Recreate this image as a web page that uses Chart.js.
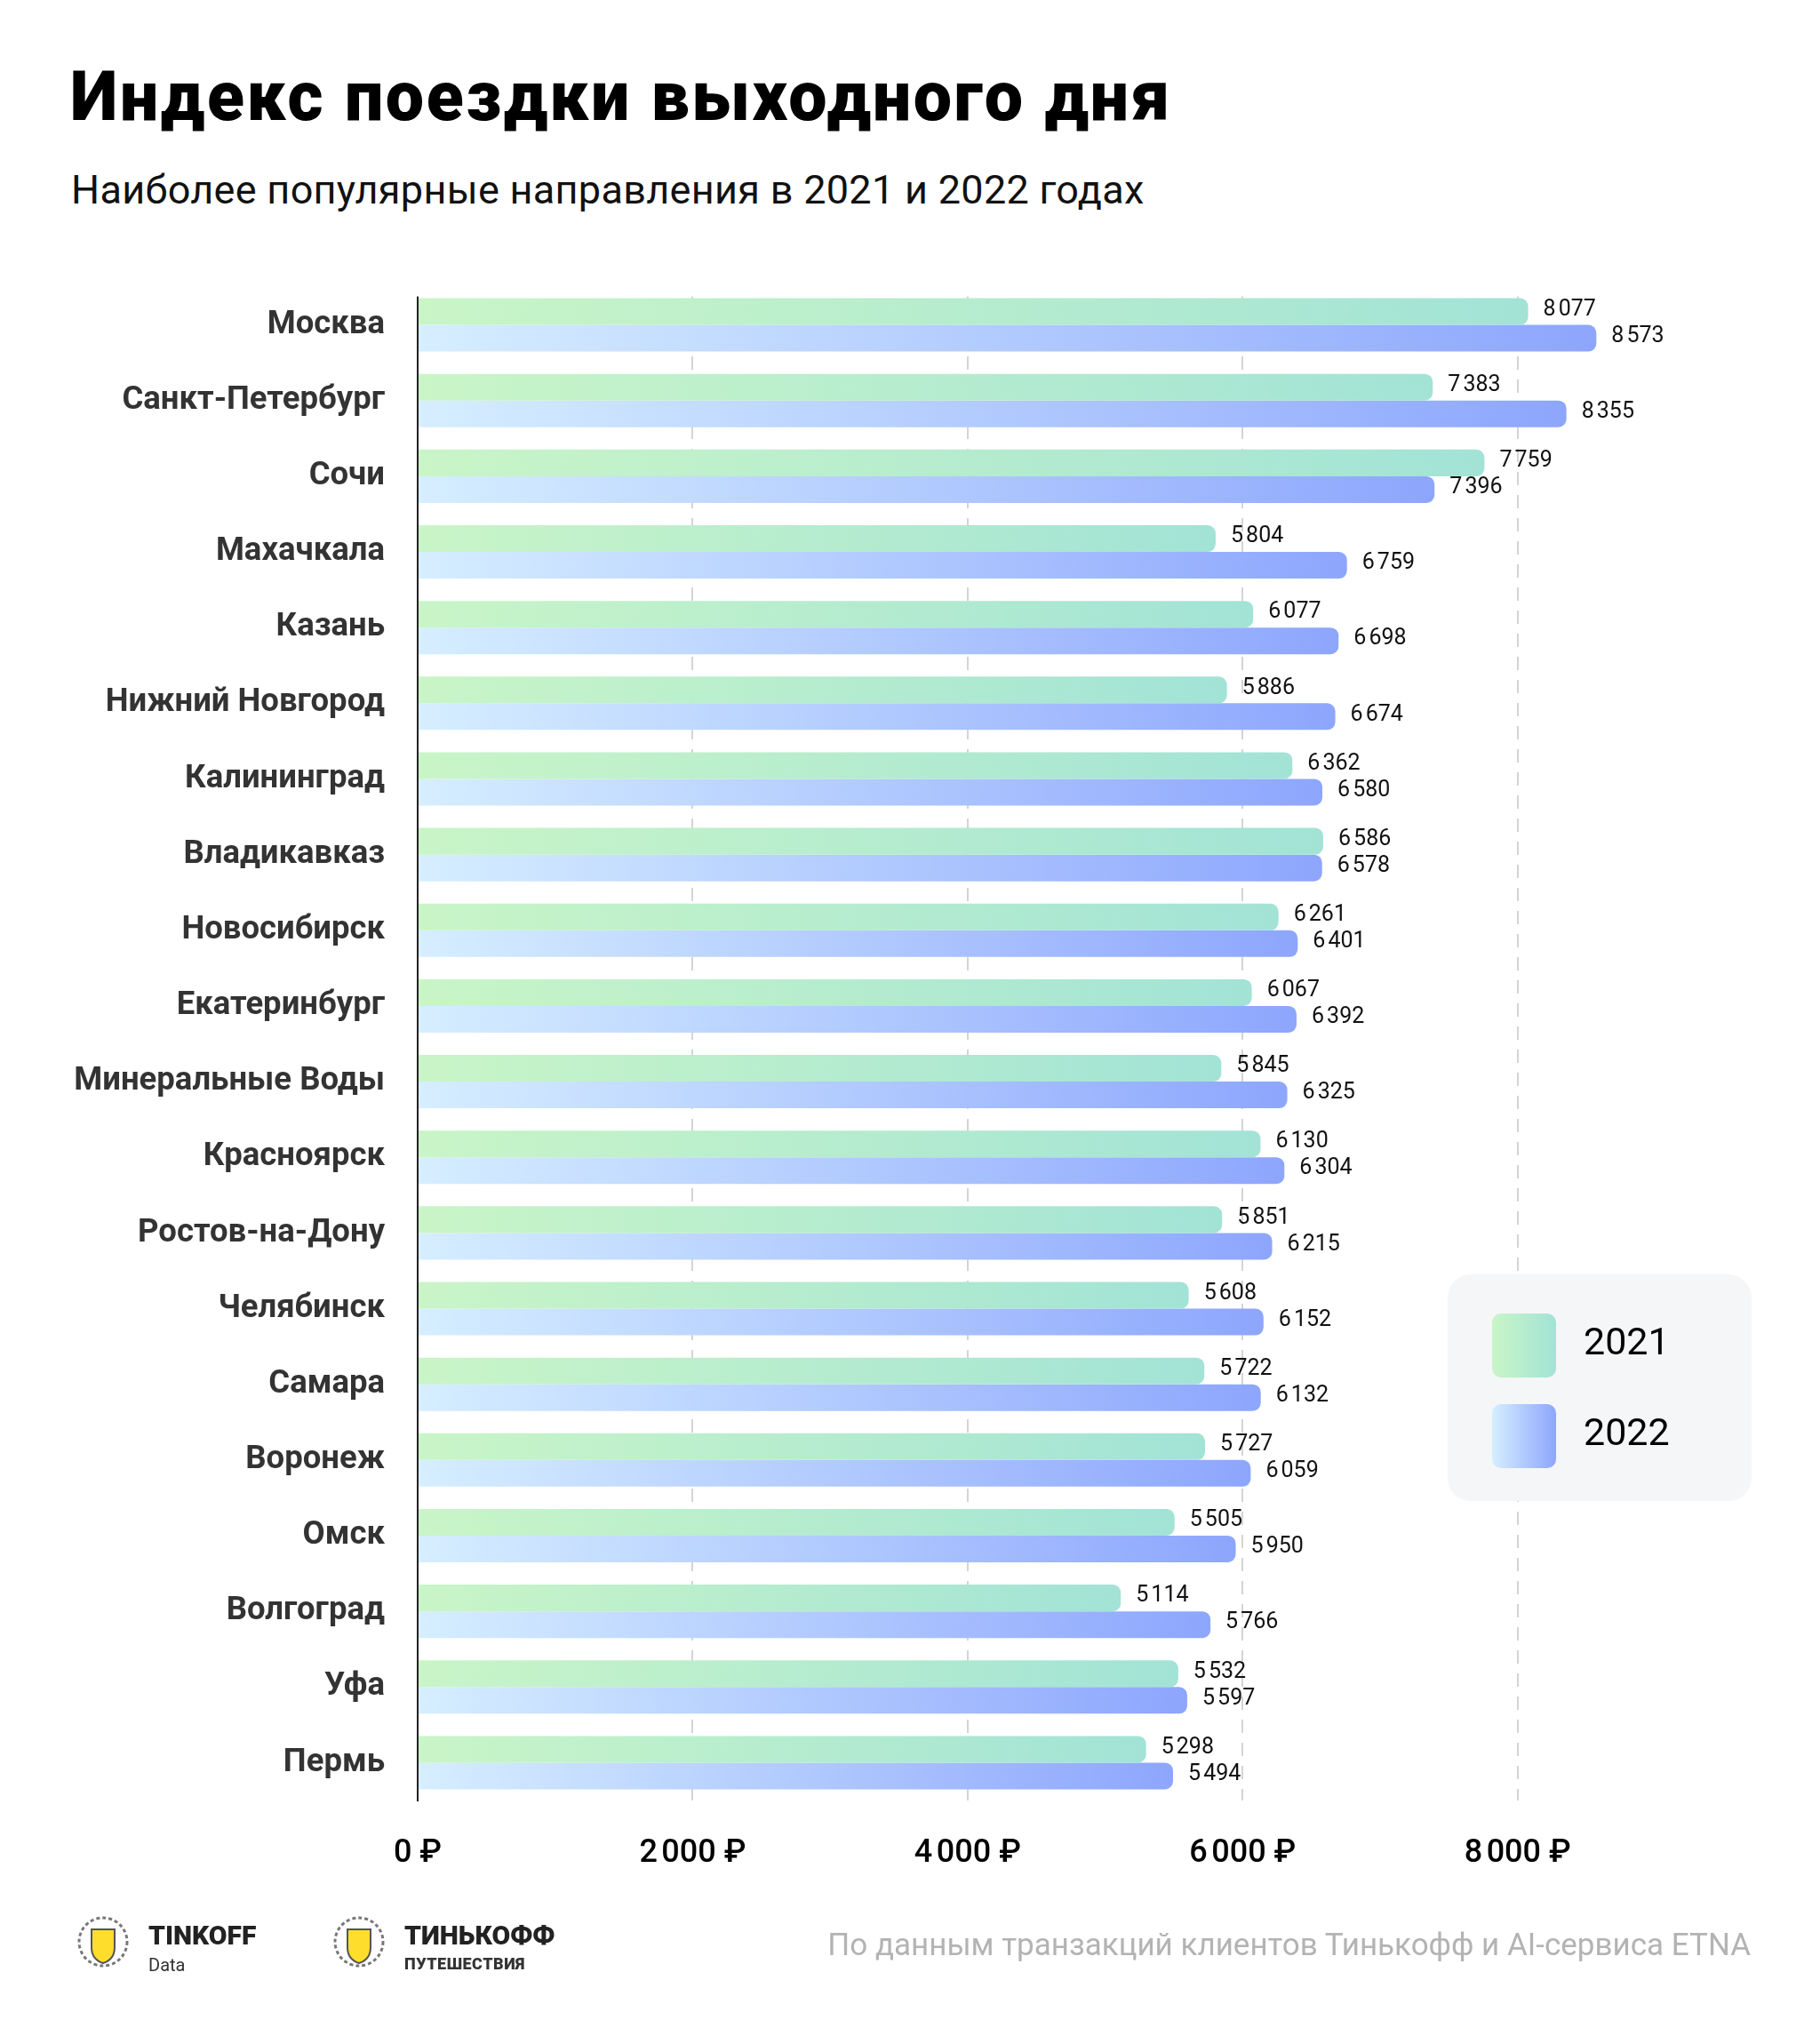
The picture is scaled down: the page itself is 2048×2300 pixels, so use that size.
<!DOCTYPE html>
<html lang="ru">
<head>
<meta charset="utf-8">
<title>Индекс поездки выходного дня</title>
<script src="https://cdn.jsdelivr.net/npm/chart.js@4.4.1/dist/chart.umd.min.js"></script>
<style>
  html, body { margin: 0; padding: 0; background: #fff; }
  body { width: 2048px; height: 2300px; position: relative; overflow: hidden; font-family: Roboto, "Noto Sans", sans-serif; }
  #chart { position: absolute; left: 0; top: 0; }
  .title { position: absolute; left: 79px; top: 71px; font-size: 77px; line-height: 1; font-weight: 900; letter-spacing: 2.6px; color: #000; white-space: nowrap; }
  .subtitle { position: absolute; left: 80px; top: 191px; font-size: 45px; line-height: 1; font-weight: 400; letter-spacing: 0.3px; color: #111; white-space: nowrap; }
  .source { position: absolute; right: 78px; top: 2171px; font-size: 35px; line-height: 1; color: #b3b3b3; white-space: nowrap; }
  .logo { position: absolute; top: 2163px; display: flex; align-items: flex-start; }
  .logo svg { width: 74px; height: 64px; margin-right: 14px; margin-top: -10px; }
  .logo .name { font-weight: 900; font-size: 30px; line-height: 1; color: #222; }
  .logo .sub { font-size: 20px; line-height: 1; color: #333; margin-top: 8px; }
  .logo .sub.caps { font-weight: 900; font-size: 18px; letter-spacing: 0.5px; }
</style>
</head>
<body>
<div class="title">Индекс поездки выходного дня</div>
<div class="subtitle">Наиболее популярные направления в 2021 и 2022 годах</div>
<canvas id="chart" width="2048" height="2300"></canvas>

<div class="logo" style="left:79px">
  <svg viewBox="0 0 74 64"><circle cx="37" cy="32" r="27" fill="none" stroke="#777" stroke-width="3" stroke-dasharray="4 3"/><path d="M24 18 H50 V38 Q50 52 37 56 Q24 52 24 38 Z" fill="#ffdd2d" stroke="#555" stroke-width="2"/></svg>
  <div><div class="name">TINKOFF</div><div class="sub">Data</div></div>
</div>
<div class="logo" style="left:367px">
  <svg viewBox="0 0 74 64"><circle cx="37" cy="32" r="27" fill="none" stroke="#777" stroke-width="3" stroke-dasharray="4 3"/><path d="M24 18 H50 V38 Q50 52 37 56 Q24 52 24 38 Z" fill="#ffdd2d" stroke="#555" stroke-width="2"/></svg>
  <div><div class="name">ТИНЬКОФФ</div><div class="sub caps">ПУТЕШЕСТВИЯ</div></div>
</div>
<div class="source">По данным транзакций клиентов Тинькофф и AI-сервиса ETNA</div>

<script>
const cities = ['Москва', 'Санкт-Петербург', 'Сочи', 'Махачкала', 'Казань', 'Нижний Новгород',
  'Калининград', 'Владикавказ', 'Новосибирск', 'Екатеринбург', 'Минеральные Воды', 'Красноярск',
  'Ростов-на-Дону', 'Челябинск', 'Самара', 'Воронеж', 'Омск', 'Волгоград', 'Уфа', 'Пермь'];
const values2021 = [8077, 7383, 7759, 5804, 6077, 5886, 6362, 6586, 6261, 6067,
  5845, 6130, 5851, 5608, 5722, 5727, 5505, 5114, 5532, 5298];
const values2022 = [8573, 8355, 7396, 6759, 6698, 6674, 6580, 6578, 6401, 6392,
  6325, 6304, 6215, 6152, 6132, 6059, 5950, 5766, 5597, 5494];
const xTicks = [0, 2000, 4000, 6000, 8000];

const green = ['#c9f5c7', '#a2e3d6'];
const blue = ['#d6eeff', '#8da6fd'];

function fmt(v) {
  return String(v).replace(/\B(?=(\d{3})+(?!\d))/g, '\u202f');
}

// gradient runs along each bar, from 0 to its value
function barFill(stops) {
  return function (c) {
    const chart = c.chart;
    if (!chart.chartArea || c.type !== 'data') return stops[1];
    const x = chart.scales.x;
    const g = chart.ctx.createLinearGradient(x.getPixelForValue(0), 0, x.getPixelForValue(c.raw), 0);
    g.addColorStop(0, stops[0]);
    g.addColorStop(1, stops[1]);
    return g;
  };
}

// grid and axis line start at the first bar, not at the top of the chart area
const trimTop = {
  id: 'trimTop',
  beforeDatasetsDraw(chart) {
    const first = chart.getDatasetMeta(0).data[0];
    if (!first) return;
    const top = chart.chartArea.top;
    const cut = first.y - first.height / 2 - 2;
    const ctx = chart.ctx;
    ctx.save();
    ctx.fillStyle = '#fff';
    ctx.fillRect(chart.chartArea.left - 3, top - 2, chart.chartArea.width + 6, cut - top + 2);
    ctx.restore();
  }
};

const valueLabels = {
  id: 'valueLabels',
  afterDatasetsDraw(chart) {
    const ctx = chart.ctx;
    ctx.save();
    ctx.font = '400 25px Roboto';
    ctx.fillStyle = '#111';
    ctx.textBaseline = 'middle';
    chart.data.datasets.forEach((ds, i) => {
      chart.getDatasetMeta(i).data.forEach((bar, j) => {
        ctx.fillText(fmt(ds.data[j]), bar.x + 17, bar.y - 2);
      });
    });
    ctx.restore();
  }
};

function roundRect(ctx, x, y, w, h, r) {
  ctx.beginPath();
  ctx.moveTo(x + r, y);
  ctx.arcTo(x + w, y, x + w, y + h, r);
  ctx.arcTo(x + w, y + h, x, y + h, r);
  ctx.arcTo(x, y + h, x, y, r);
  ctx.arcTo(x, y, x + w, y, r);
  ctx.closePath();
}

const boxLegend = {
  id: 'boxLegend',
  afterDraw(chart) {
    const ctx = chart.ctx;
    ctx.save();
    ctx.fillStyle = '#f5f6f8';
    roundRect(ctx, 1629, 1434, 342, 255, 26);
    ctx.fill();
    chart.data.datasets.forEach((ds, i) => {
      const y = 1478 + i * 102;
      const g = ctx.createLinearGradient(1679, 0, 1751, 0);
      g.addColorStop(0, ds.stops[0]);
      g.addColorStop(1, ds.stops[1]);
      ctx.fillStyle = g;
      roundRect(ctx, 1679, y, 72, 72, 10);
      ctx.fill();
      ctx.fillStyle = '#000';
      ctx.font = '400 43px Roboto';
      ctx.textBaseline = 'alphabetic';
      ctx.fillText(ds.label, 1782, y + 46);
    });
    ctx.restore();
  }
};

new Chart(document.getElementById('chart'), {
  type: 'bar',
  data: {
    labels: cities,
    datasets: [
      { label: '2021', data: values2021, stops: green, backgroundColor: barFill(green) },
      { label: '2022', data: values2022, stops: blue, backgroundColor: barFill(blue) }
    ]
  },
  options: {
    indexAxis: 'y',
    responsive: false,
    animation: false,
    devicePixelRatio: 1,
    categoryPercentage: 0.705,
    barPercentage: 1,
    borderRadius: 9,
    borderSkipped: 'start',
    layout: { padding: { left: 0, top: 323, right: 68, bottom: 192 } },
    plugins: { legend: { display: false }, tooltip: { enabled: false } },
    scales: {
      x: {
        min: 0,
        max: 9760,
        afterBuildTicks: s => { s.ticks = xTicks.map(v => ({ value: v })); },
        afterFit: s => { s.height = 82; },
        border: { display: false, dash: [15, 11] },
        grid: {
          drawTicks: false,
          lineWidth: 2,
          color: c => (c.tick && c.tick.value === 0) ? 'rgba(0,0,0,0)' : '#d4d4d4'
        },
        ticks: {
          padding: 38,
          color: '#000',
          font: { family: 'Roboto', size: 36, weight: '500' },
          callback: v => fmt(v) + '\u00a0₽'
        }
      },
      y: {
        afterFit: s => { s.width = 470; },
        border: { display: true, color: '#222', width: 2 },
        grid: { display: false, drawTicks: false },
        ticks: {
          padding: 37,
          color: '#333',
          font: { family: 'Roboto', size: 36.5, weight: '700' }
        }
      }
    }
  },
  plugins: [trimTop, valueLabels, boxLegend]
});
</script>
</body>
</html>
